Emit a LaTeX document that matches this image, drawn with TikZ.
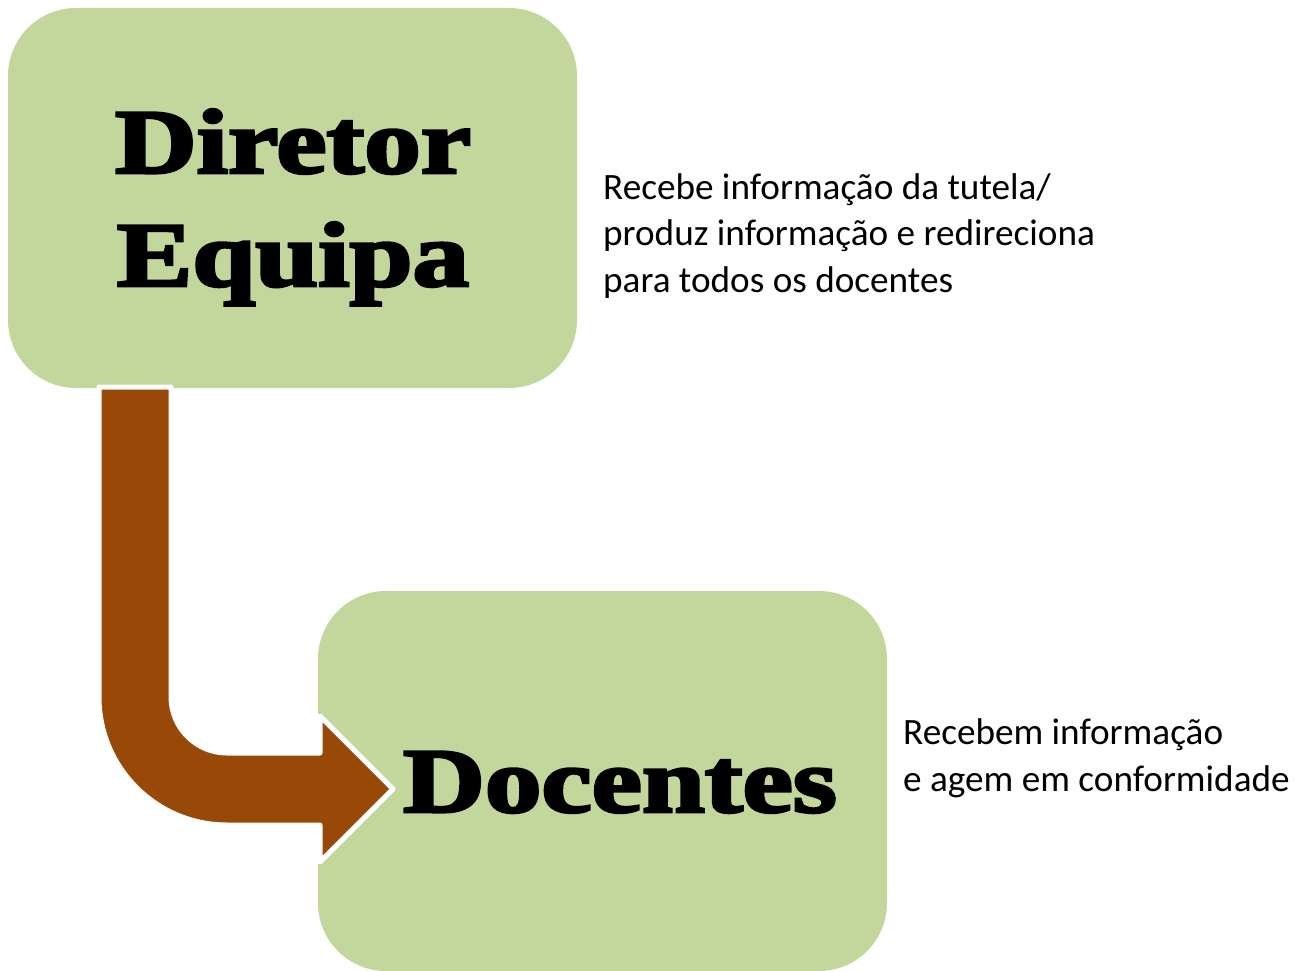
\documentclass[tikz,border=0pt]{standalone}
\usepackage{fontspec}
\usepackage{graphicx}
\usepackage{tikz}
\setmainfont{Carlito}
\newfontfamily\fatface[UprightFont=* Bold,FakeBold=3]{Liberation Serif}
\definecolor{olivelight}{HTML}{C3D69B}
\definecolor{arrowbrown}{HTML}{984807}
\tikzset{
	box/.style={fill=olivelight,rounded corners=68pt,minimum width=569pt,minimum height=380pt,inner sep=0pt},
	title/.style={anchor=base,inner sep=0pt,font=\fatface\fontsize{92}{112}\selectfont},
	note/.style={anchor=base west,align=left,inner sep=0pt,font=\fontsize{37.2}{46.5}\selectfont}
}
\newcommand{\wide}[1]{\scalebox{1.23}[1]{#1}}
\begin{document}
\begin{tikzpicture}[x=1pt,y=-1pt]
	\useasboundingbox (0,0) rectangle (1309,971);
	
	\node[box] (director) at (292.5,198) {};
	\node[box] (teachers) at (602.5,781) {};
	
	\node[title] (t1) at (293,173) {\wide{Diretor}};
	\node[title] (t2) at (293,286) {\wide{Equipa}};
	\node[title] (t3) at (620,812) {\wide{Docentes}};
	
	\node[note] (n1) at (603,292) {Recebe informação da tutela/\\produz informação e redireciona\\para todos os docentes};
	\node[note] (n2) at (903,791) {Recebem informação\\e agem em conformidade};
	
	% bent arrow
	\coordinate (a1) at (99,387);
	\coordinate (a2) at (171,387);
	\draw[draw=white,line width=5pt,line join=round,fill=arrowbrown]
		(a1) -- (99,697) arc[start angle=180,end angle=90,radius=128]
		-- (320,825) -- (320,862) -- (393,789) -- (320,716) -- (320,753)
		-- (227,753) arc[start angle=90,end angle=180,radius=56]
		-- (a2) -- cycle;
	
\end{tikzpicture}
\end{document}
